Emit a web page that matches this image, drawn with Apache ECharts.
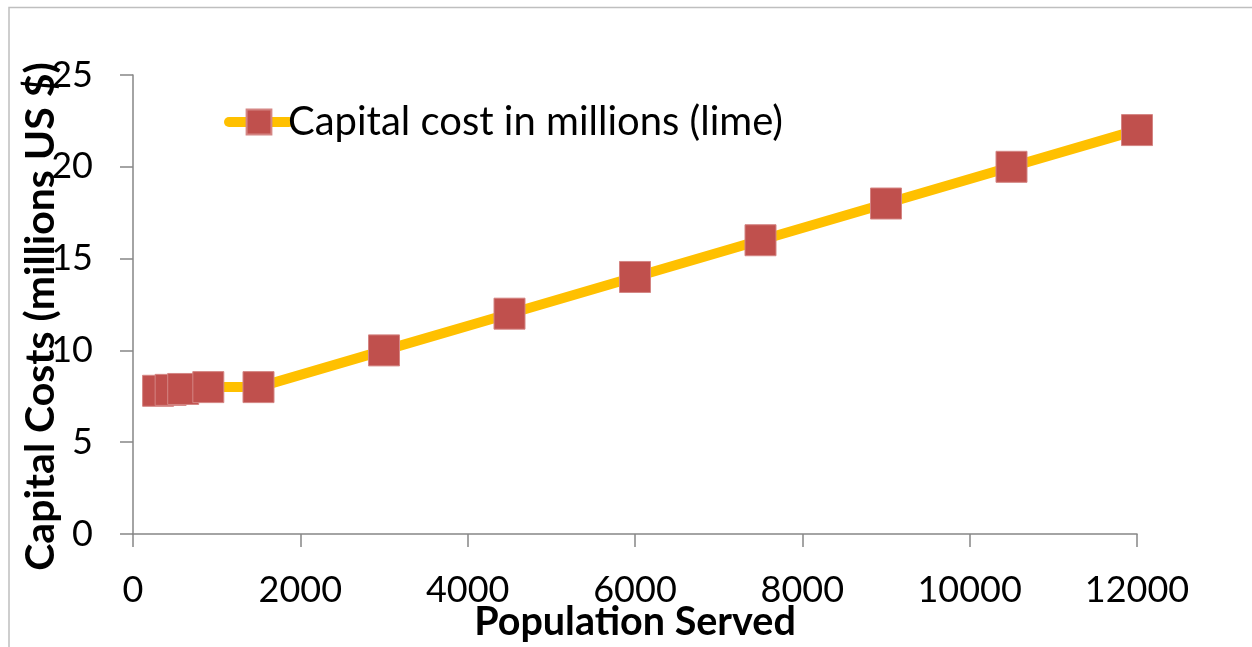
<!DOCTYPE html>
<html>
<head>
<meta charset="utf-8">
<title>Capital cost vs population served</title>
<script src="https://cdn.jsdelivr.net/npm/echarts@6/dist/echarts.min.js"></script>
<style>
  html, body { margin: 0; padding: 0; background: #ffffff; }
  #chart { width: 1252px; height: 647px; }
</style>
</head>
<body>
<div id="chart"></div>
<script>
// Population served (x) and capital cost in millions US $ (y)
const population = [300, 450, 600, 900, 1500, 3000, 4500, 6000, 7500, 9000, 10500, 12000];
const capitalCost = [7.8, 7.85, 7.9, 8, 8, 10, 12, 14, 16, 18, 20, 22];

const seriesName = 'Capital cost in millions (lime)';
const xTitle = 'Population Served';
const yTitle = 'Capital Costs (millions US $)';

const FONT = 'Lato, "Open Sans", sans-serif';
const AXIS_GREY = '#868686';

const chart = echarts.init(document.getElementById('chart'), null, { renderer: 'canvas' });

chart.setOption({
  animation: false,
  backgroundColor: '#ffffff',
  textStyle: { fontFamily: FONT, color: '#000000' },
  graphic: [{
    type: 'rect',
    left: 6.5,
    top: 5,
    shape: { x: 0, y: 0, width: 1300, height: 700 },
    style: { fill: 'none', stroke: '#BFBFBF', lineWidth: 1.5 },
    silent: true
  }],
  grid: { left: 133, right: 115, top: 75, bottom: 113, containLabel: false, outerBoundsMode: 'none' },
  legend: {
    show: true,
    left: 219,
    top: 97,
    itemWidth: 60,
    itemHeight: 31,
    itemGap: 0,
    lineStyle: { width: 10, cap: 'round' },
    textStyle: { fontFamily: FONT, fontSize: 40, color: '#000000', padding: [0, 0, 0, -6] },
    data: [seriesName]
  },
  xAxis: {
    type: 'value',
    min: 0,
    max: 12000,
    interval: 2000,
    name: xTitle,
    nameLocation: 'middle',
    nameMoveOverlap: false,
    nameGap: 68,
    nameTextStyle: { fontFamily: FONT, fontSize: 39.5, fontWeight: 'bold', color: '#000000' },
    axisLine: { show: true, lineStyle: { color: AXIS_GREY, width: 1.5 } },
    axisTick: { show: true, inside: false, length: 13, lineStyle: { color: AXIS_GREY, width: 1.5 } },
    axisLabel: { fontFamily: FONT, fontSize: 36, color: '#000000', margin: 38, formatter: v => String(v) },
    splitLine: { show: false }
  },
  yAxis: {
    type: 'value',
    min: 0,
    max: 25,
    interval: 5,
    name: yTitle,
    nameLocation: 'middle',
    nameMoveOverlap: false,
    nameRotate: 90,
    nameGap: 72,
    nameTextStyle: { fontFamily: FONT, fontSize: 41, fontWeight: 'bold', color: '#000000', padding: [0, 24, 0, 0] },
    axisLine: { show: true, lineStyle: { color: AXIS_GREY, width: 1.5 } },
    axisTick: { show: true, inside: false, length: 13, lineStyle: { color: AXIS_GREY, width: 1.5 } },
    axisLabel: { fontFamily: FONT, fontSize: 36, color: '#000000', margin: 40, formatter: v => String(v) },
    splitLine: { show: false }
  },
  series: [{
    name: seriesName,
    type: 'line',
    data: population.map((p, i) => [p, capitalCost[i]]),
    symbol: 'rect',
    symbolSize: 31,
    showSymbol: true,
    lineStyle: { color: '#FFC000', width: 10, cap: 'round', join: 'round' },
    itemStyle: { color: '#C0504D', borderColor: '#D48583', borderWidth: 1 },
    emphasis: { disabled: true }
  }]
});
</script>
</body>
</html>
